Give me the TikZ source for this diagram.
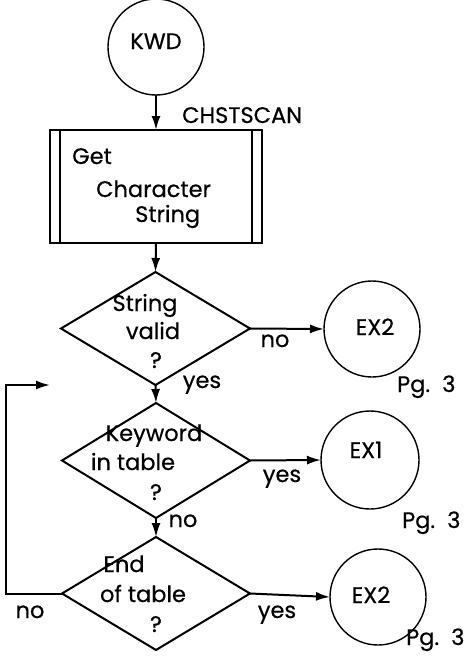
\documentclass[tikz,border=0pt]{standalone}
\usepackage{fontspec}
\setmainfont{Poppins}[FakeBold=0.5]
\usetikzlibrary{shapes.geometric,arrows.meta}
\begin{document}
\begin{tikzpicture}[x=1pt,y=-1pt,
  every node/.style={font=\fontsize{22.5}{26}\selectfont},
  term/.style={circle,draw,line width=1.4pt,minimum size=96pt,inner sep=0pt,outer sep=0pt},
  decision/.style={diamond,draw,line width=2pt,minimum width=189pt,minimum height=113pt,inner sep=0pt,outer sep=0pt},
  proc/.style={rectangle,draw,line width=1.4pt,minimum width=212pt,minimum height=113pt,inner sep=0pt,outer sep=0pt},
  txt/.style={anchor=base,inner sep=0pt},
  ltxt/.style={anchor=base west,inner sep=0pt},
  flow/.style={line width=2pt,-{Latex[length=14pt,width=9pt]}}]
\useasboundingbox (0,0) rectangle (474,656);

% terminals
\node[term] (kwd) at (156,47) {};
\node[txt] (kwdt) at (156,49) {KWD};
\node[term] (ex2a) at (372,329) {};
\node[txt] (ex2at) at (375,335) {EX2};
\node[term,minimum size=98pt] (ex1) at (370,460) {};
\node[txt] (ex1t) at (366,458) {EX1};
\node[term] (ex2b) at (378,597) {};
\node[txt] (ex2bt) at (371,603) {EX2};

% process box
\node[proc] (gcs) at (156,186.5) {};
\draw[line width=2.4pt] ([xshift=10pt]gcs.north west) -- ([xshift=10pt]gcs.south west);
\draw[line width=2.4pt] ([xshift=-10pt]gcs.north east) -- ([xshift=-10pt]gcs.south east);
\node[ltxt] (gcs1) at (72,164) {Get};
\node[ltxt] (gcs2) at (96,197) {Character};
\node[ltxt] (gcs3) at (135,222) {String};
\node[ltxt] (chst) at (182,123) {CHSTSCAN};

% decisions
\node[decision] (d1) at (155.5,328.5) {};
\node[txt] (d1a) at (145,311) {String};
\node[txt] (d1b) at (153,339) {valid};
\node[txt] (d1c) at (156,368) {?};

\node[decision,minimum width=188pt,minimum height=115pt] (d2) at (156,460.5) {};
\node[txt] (d2a) at (154,441) {Keyword};
\node[txt] (d2b) at (133,470) {in table};
\node[txt] (d2c) at (156,500) {?};

\node[decision,minimum width=188pt] (d3) at (156,593.5) {};
\node[txt] (d3a) at (124,572) {End};
\node[txt] (d3b) at (143,602) {of table};
\node[txt] (d3c) at (156,632) {?};

% labels
\node[txt] (l1) at (275,347) {no};
\node[txt] (l2) at (202,388) {yes};
\node[txt] (l3) at (282,482) {yes};
\node[txt] (l4) at (183,527) {no};
\node[txt] (l5) at (277,618) {yes};
\node[txt] (l6) at (30,618) {no};
\node[ltxt] (p1) at (397,392) {Pg.\ \ 3};
\node[ltxt] (p2) at (402,528) {Pg.\ \ 3};
\node[ltxt] (p3) at (406,645) {Pg.\ \ 3};

% connectors
\draw[flow] (kwd.south) -- (gcs.north);
\draw[flow] (gcs.south) -- (d1.north);
\draw[flow] (d1.east) -- (ex2a.west);
\draw[flow] (d1.south) -- (d2.north);
\draw[flow] (d2.east) -- (ex1.west);
\draw[flow] (d2.south) -- (d3.north);
\draw[flow] (d3.east) -- (ex2b.west);
\coordinate (loopend) at (50,385);
\draw[flow] (d3.west) -- (6,593.5) |- (loopend);
\end{tikzpicture}
\end{document}
